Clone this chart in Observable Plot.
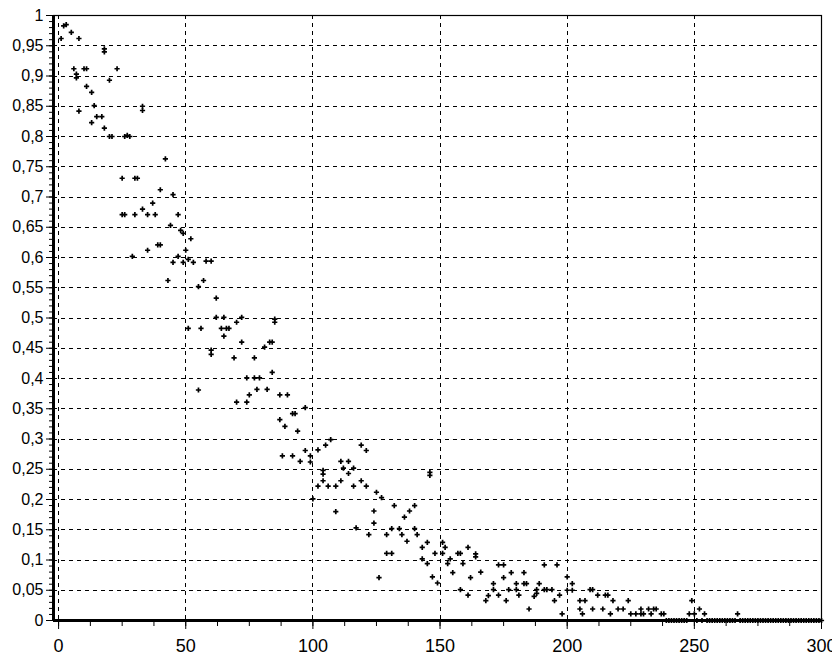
<!DOCTYPE html>
<html><head><meta charset="utf-8">
<script src="https://cdn.jsdelivr.net/npm/d3@7"></script>
<script src="https://cdn.jsdelivr.net/npm/@observablehq/plot@0.6"></script>
<style>html,body{margin:0;padding:0;background:#fff}#chart svg{display:block}</style>
</head><body><div id="chart"></div>
<script>
// scattered observations (x, y)
const pointX = [
  1,2,3,5,6,7,7,8,8,10,11,11,13,13,14,15,17,18,18,18,20,20,21,23,
  25,25,26,26,27,28,29,30,30,31,33,33,33,35,35,37,38,39,40,40,42,43,44,45,45,47,47,48,49,49,
  50,51,51,52,53,55,55,56,57,58,60,60,60,62,62,64,65,65,66,67,69,70,70,72,72,74,74,75,77,77,78,79,
  81,82,83,84,84,85,85,87,87,88,89,90,92,92,93,94,95,97,97,99,99,100,102,102,104,104,104,105,106,107,109,109,
  111,111,112,114,114,116,116,117,119,119,121,121,122,124,124,125,126,127,129,129,131,131,132,134,135,136,137,138,140,140,141,143,143,145,145,146,146,147,148,149,
  151,151,152,153,154,155,157,158,158,159,161,161,162,164,164,166,168,169,171,171,173,173,175,175,176,177,178,180,180,181,183,183,184,185,187,188,188,189,191,191,192,194,195,196,197,198,
  200,200,202,202,205,205,206,207,209,210,210,212,214,215,216,217,218,220,222,224,225,227,229,229,230,232,233,234,235,237,238,248,249,250,252,254,267
];
const pointY = [
  0.962,0.983,0.985,0.972,0.912,0.897,0.903,0.962,0.842,0.912,0.883,0.912,0.873,0.823,0.851,0.833,0.833,0.945,0.940,0.814,0.800,0.893,0.800,0.912,
  0.731,0.671,0.800,0.671,0.802,0.800,0.602,0.731,0.671,0.731,0.843,0.850,0.680,0.671,0.612,0.690,0.671,0.621,0.621,0.712,0.763,0.562,0.653,0.704,0.592,0.671,0.602,0.645,0.640,0.592,
  0.612,0.597,0.483,0.631,0.592,0.552,0.381,0.483,0.562,0.594,0.594,0.447,0.440,0.533,0.501,0.483,0.501,0.470,0.483,0.483,0.434,0.493,0.361,0.501,0.460,0.361,0.401,0.373,0.434,0.401,0.382,0.401,
  0.452,0.382,0.460,0.460,0.410,0.493,0.498,0.373,0.332,0.272,0.321,0.373,0.342,0.272,0.342,0.313,0.263,0.281,0.352,0.272,0.262,0.201,0.282,0.222,0.231,0.242,0.248,0.290,0.222,0.299,0.222,0.180,
  0.263,0.231,0.252,0.263,0.243,0.252,0.222,0.153,0.290,0.231,0.281,0.222,0.142,0.161,0.181,0.212,0.071,0.203,0.142,0.111,0.152,0.111,0.190,0.152,0.142,0.171,0.131,0.181,0.152,0.190,0.142,0.121,0.102,0.129,0.094,0.240,0.245,0.072,0.111,0.062,
  0.129,0.111,0.121,0.094,0.102,0.079,0.111,0.111,0.051,0.094,0.121,0.042,0.071,0.110,0.105,0.080,0.033,0.041,0.051,0.061,0.042,0.092,0.092,0.071,0.033,0.051,0.079,0.061,0.051,0.042,0.079,0.061,0.061,0.019,0.040,0.045,0.051,0.061,0.051,0.092,0.051,0.051,0.033,0.092,0.042,0.011,
  0.072,0.050,0.061,0.050,0.033,0.019,0.011,0.033,0.051,0.051,0.019,0.042,0.019,0.042,0.042,0.011,0.033,0.019,0.019,0.033,0.011,0.011,0.011,0.019,0.011,0.019,0.011,0.019,0.019,0.011,0.011,0.011,0.033,0.011,0.019,0.011,0.011
];
// observations lying on zero
const zeroX = [239,240,241,242,243,244,245,246,247,251,253,255,256,257,258,259,260,261,262,263,264,265,266,
  268,269,270,271,272,273,274,275,276,277,278,279,280,281,282,283,284,285,286,287,288,289,290,291,292,293,294,295,296,297,298,299,300];
const xTicks = [0,50,100,150,200,250,300];
const yTicks = [0,0.05,0.1,0.15,0.2,0.25,0.3,0.35,0.4,0.45,0.5,0.55,0.6,0.65,0.7,0.75,0.8,0.85,0.9,0.95,1];

const data = pointX.map((x, i) => ({x, y: pointY[i]}))
  .concat(zeroX.map(x => ({x, y: 0})));

const cross = {
  draw(ctx, size) {
    const r = Math.sqrt(size / Math.PI);
    ctx.moveTo(-r, 0); ctx.lineTo(r, 0);
    ctx.moveTo(0, -r); ctx.lineTo(0, r);
  }
};
const fmt = d => String(Math.round(d * 100) / 100).replace(".", ",");

const chart = Plot.plot({
  width: 832, height: 655,
  marginLeft: 53, marginRight: 11, marginTop: 15, marginBottom: 35,
  x: {domain: [-2, 300]},
  y: {domain: [0, 1]},
  style: {fontFamily: "'Liberation Sans', Arial, sans-serif", color: "#000", background: "#fff", overflow: "visible"},
  marks: [
    Plot.gridX(xTicks, {stroke: "#000", strokeOpacity: 1, strokeWidth: 1, strokeDasharray: "4,4", shapeRendering: "crispEdges"}),
    Plot.gridY(yTicks, {stroke: "#000", strokeOpacity: 1, strokeWidth: 1, strokeDasharray: "4,4", shapeRendering: "crispEdges"}),
    Plot.frame({stroke: "#000", strokeWidth: 1.2}),
    Plot.dot(data, {x: "x", y: "y", symbol: cross, r: 2.6, stroke: "#000", strokeWidth: 1.7, fill: "none"}),
    Plot.axisX(d3.range(0, 301, 12.5), {tickSize: 6, tickFormat: () => "", label: null}),
    Plot.axisX(xTicks, {tickSize: 9, tickPadding: 10, fontSize: 18, label: null}),
    Plot.axisY(d3.range(0, 1.0001, 0.01), {tickSize: 4, tickFormat: () => "", label: null}),
    Plot.axisY(yTicks, {tickSize: 7, tickPadding: 3, fontSize: 16, tickFormat: fmt, label: null}),
    Plot.ruleX([-2], {stroke: "#000", strokeWidth: 3}),
    Plot.ruleY([0], {stroke: "#000", strokeWidth: 3})
  ]
});
document.getElementById("chart").append(chart);
</script>
</body></html>
